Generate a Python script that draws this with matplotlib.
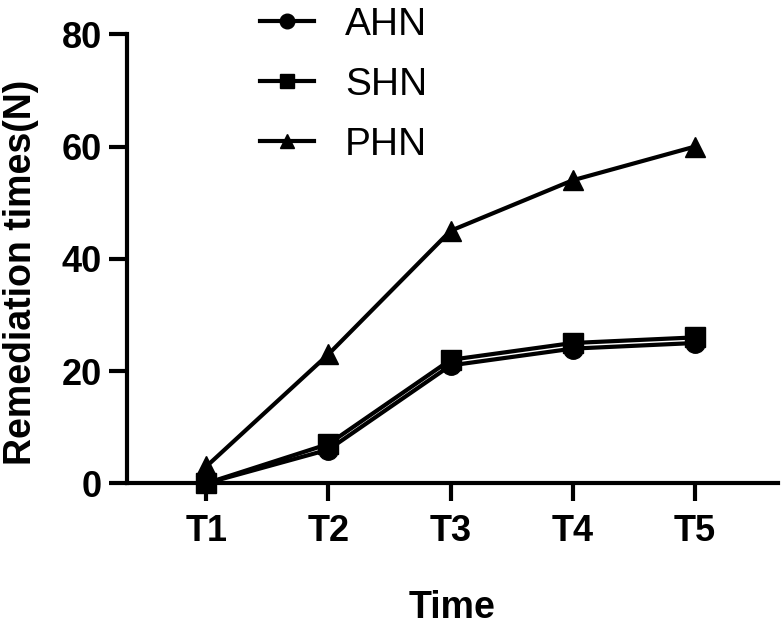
import matplotlib
matplotlib.use("Agg")
import matplotlib.pyplot as plt

# data
times = ["T1", "T2", "T3", "T4", "T5"]
ahn = [0, 6, 21, 24, 25]
shn = [0, 7, 22, 25, 26]
phn = [3, 23, 45, 54, 60]

plt.rcParams['font.family'] = ['Liberation Sans', 'DejaVu Sans']

fig = plt.figure(figsize=(7.84, 6.26), dpi=100)
ax = fig.add_axes([0.162, 0.228, 0.830, 0.717])

x = range(len(times))
ax.plot(x, ahn, color='black', lw=3.0, marker='o', ms=14, label='AHN', clip_on=False, zorder=3)
ax.plot(x, shn, color='black', lw=3.0, marker='s', ms=14, label='SHN', clip_on=False, zorder=3)
ax.plot(x, phn, color='black', lw=3.0, marker='^', ms=14, label='PHN', clip_on=False, zorder=3)

ax.set_xlim(-0.65, 4.68)
ax.set_ylim(0, 80)
ax.set_yticks([0, 20, 40, 60, 80])
ax.set_xticks(list(x))
ax.set_xticklabels(times)

for s in ['top', 'right']:
    ax.spines[s].set_visible(False)
for s in ['left', 'bottom']:
    ax.spines[s].set_linewidth(3.0)

ax.tick_params(axis='both', length=13, width=3.0, labelsize=26, pad=5)
ax.tick_params(axis='x', pad=9)
for lab in ax.get_xticklabels() + ax.get_yticklabels():
    lab.set_fontweight('bold')

ax.set_xlabel('Time', fontsize=27, fontweight='bold', labelpad=30)
ax.set_ylabel('Remediation times(N)', fontsize=27, fontweight='bold')
ax.yaxis.set_label_coords(-0.135, 0.47)

leg = ax.legend(loc='upper left', bbox_to_anchor=(0.15, 1.14), frameon=False,
                fontsize=28, markerscale=0.75, handlelength=1.4,
                labelspacing=0.62, handletextpad=0.8)

fig.savefig('out.png', dpi=100)
